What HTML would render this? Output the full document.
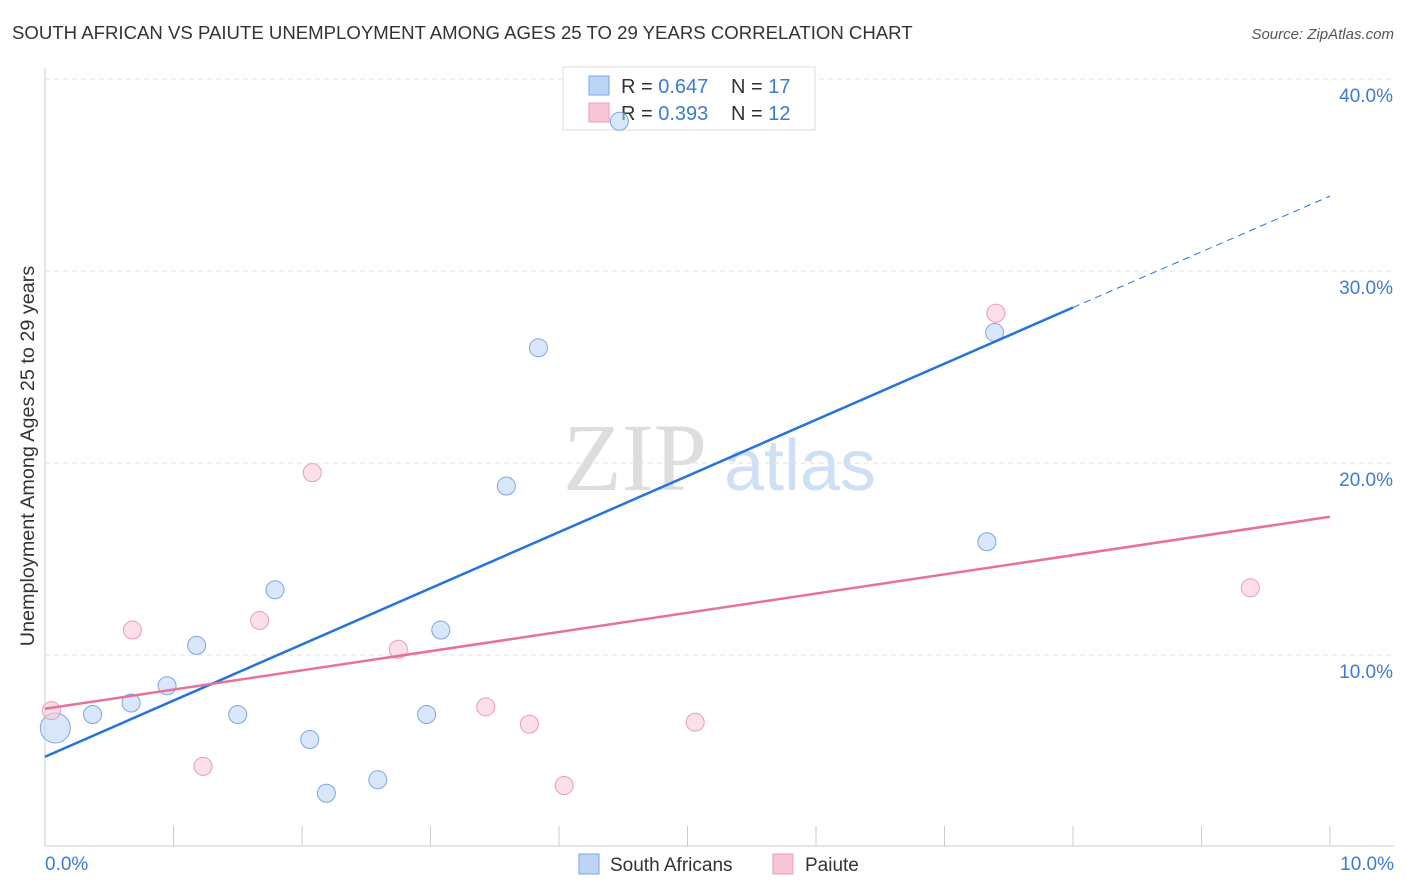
<!DOCTYPE html>
<html><head><meta charset="utf-8"><style>
body{margin:0;background:#fff;font-family:"Liberation Sans",sans-serif;}
svg{display:block}
</style></head><body>
<svg id="c" width="1406" height="892" xmlns="http://www.w3.org/2000/svg">
<text x="12" y="39" font-size="18.6" fill="#333">SOUTH AFRICAN VS PAIUTE UNEMPLOYMENT AMONG AGES 25 TO 29 YEARS CORRELATION CHART</text>
<text x="1394" y="39" font-size="15" fill="#555" font-style="italic" text-anchor="end">Source: ZipAtlas.com</text>
<text x="635" y="490" font-size="96" fill="#ddd" font-family="Liberation Serif" text-anchor="middle">ZIP</text>
<text x="800" y="490" font-size="72" fill="#cfe0f5" text-anchor="middle">atlas</text>
<text transform="translate(34,456) rotate(-90)" font-size="19.8" fill="#333" text-anchor="middle">Unemployment Among Ages 25 to 29 years</text>
<g id="grid"></g>
<g>
<rect x="563" y="67" width="252" height="63" fill="#fff" stroke="#ddd"/>
<rect x="589" y="76" width="20" height="19" fill="#bcd4f6" stroke="#7aa6e6"/>
<rect x="589" y="103" width="20" height="19" fill="#f9c6d5" stroke="#ee9ab4"/>
<text x="621" y="93" font-size="20" fill="#333">R = <tspan fill="#3a7bd5">0.647</tspan><tspan x="731">N = </tspan><tspan fill="#3a7bd5">17</tspan></text>
<text x="621" y="120" font-size="20" fill="#333">R = <tspan fill="#3a7bd5">0.393</tspan><tspan x="731">N = </tspan><tspan fill="#3a7bd5">12</tspan></text>
</g>
<g id="marks"></g>
<g>
<rect x="579" y="854" width="20" height="20" fill="#bcd4f6" stroke="#7aa6e6"/>
<text x="610" y="871" font-size="19" fill="#333">South Africans</text>
<rect x="773" y="854" width="20" height="20" fill="#f9c6d5" stroke="#ee9ab4"/>
<text x="805" y="871" font-size="19" fill="#333">Paiute</text>
</g>
</svg>
<script>
const yTicks=[10,20,30,40];
const yTickLabels=["10.0%","20.0%","30.0%","40.0%"];
const xTickLabels=["0.0%","10.0%"];
const saX=[4.47,3.84,3.59,7.39,7.33,1.79,1.18,3.08,0.95,0.67,0.37,1.50,2.97,2.06,2.59,2.19,0.08];
const saY=[37.8,26.0,18.8,26.8,15.9,13.4,10.5,11.3,8.4,7.5,6.9,6.9,6.9,5.6,3.5,2.8,6.2];
const saR=[9,9,9,9,9,9,9,9,9,9,9,9,9,9,9,9,15];
const paX=[0.05,0.68,1.23,1.67,2.08,2.75,3.43,3.77,4.04,5.06,7.40,9.38];
const paY=[7.1,11.3,4.2,11.8,19.5,10.3,7.3,6.4,3.2,6.5,27.8,13.5];
const saLine=[[0,4.7],[8,28.1],[10,33.9]];
const paLine=[[0,7.2],[10,17.2]];
const X=v=>45+v*128.5, Y=v=>847-v*19.2;
const NS="http://www.w3.org/2000/svg";
const g=document.getElementById('grid'), m=document.getElementById('marks');
function mk(p,t,a){const e=document.createElementNS(NS,t);for(const k in a)e.setAttribute(k,a[k]);p.appendChild(e);return e;}
yTicks.forEach((t,i)=>{
 const l=mk(g,'line',{x1:45,x2:1394,y1:Y(t),y2:Y(t),stroke:'#e2e2e2','stroke-dasharray':'5,4'});
 
 
 const tx=mk(g,'text',{x:1393,y:Y(t)+23,'font-size':19,fill:'#3a7bd5','text-anchor':'end'});
 tx.textContent=yTickLabels[i];
 
 
});
let ax=mk(g,'line',{x1:45,x2:45,y1:68,y2:846,stroke:'#ccc'});


ax=mk(g,'line',{x1:45,x2:1394,y1:846,y2:846,stroke:'#ccc'});


for(let i=1;i<=10;i++){const t=mk(g,'line',{x1:X(i),x2:X(i),y1:826,y2:846,stroke:'#ccc'});
 
 }
[[0,'start',45],[10,'end',1394]].forEach((d,i)=>{const t=mk(g,'text',{x:d[2],y:870,'font-size':19,fill:'#3a7bd5','text-anchor':d[1]});t.textContent=xTickLabels[i];
 
 });
saX.forEach((v,i)=>{const c=mk(m,'circle',{cx:X(v),cy:Y(saY[i]),r:saR[i],fill:'rgba(188,212,246,0.55)',stroke:'#7aa6e6','stroke-width':1});
 
 });
paX.forEach((v,i)=>{const c=mk(m,'circle',{cx:X(v),cy:Y(paY[i]),r:9,fill:'rgba(249,198,213,0.55)',stroke:'#ee9ab4','stroke-width':1});
 
 });
let l=mk(m,'line',{x1:X(saLine[0][0]),y1:Y(saLine[0][1]),x2:X(saLine[1][0]),y2:Y(saLine[1][1]),stroke:'#2574d9','stroke-width':2.5});


l=mk(m,'line',{x1:X(saLine[1][0]),y1:Y(saLine[1][1]),x2:X(saLine[2][0]),y2:Y(saLine[2][1]),stroke:'#2574d9','stroke-width':1,'stroke-dasharray':'7,5'});


l=mk(m,'line',{x1:X(paLine[0][0]),y1:Y(paLine[0][1]),x2:X(paLine[1][0]),y2:Y(paLine[1][1]),stroke:'#e8709a','stroke-width':2.5});


</script>
</body></html>
